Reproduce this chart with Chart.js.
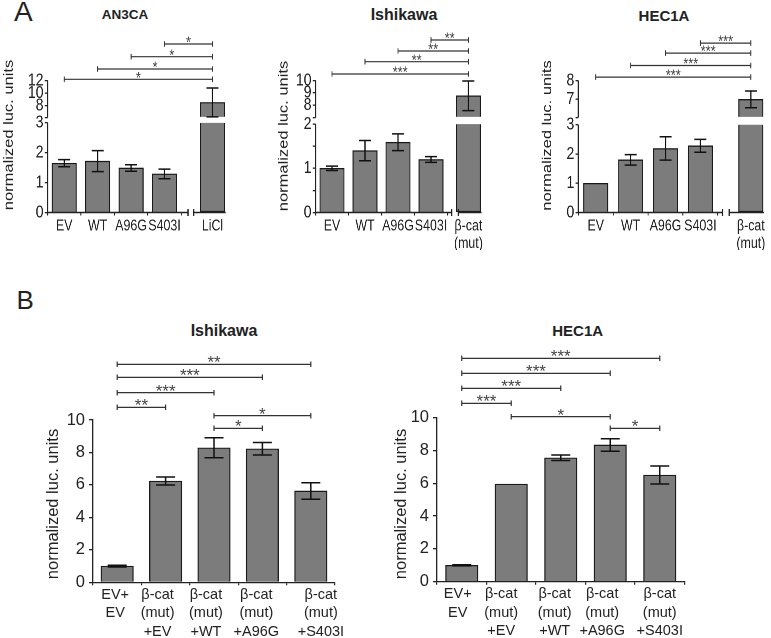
<!DOCTYPE html>
<html lang="en">
<head>
<meta charset="utf-8">
<title>Luciferase reporter assays</title>
<script src="https://cdn.jsdelivr.net/npm/chart.js@4.4.1/dist/chart.umd.min.js"></script>
<style>
  html, body { margin:0; padding:0; background:#fff; width:771px; height:638px; overflow:hidden; }
  body { position:relative; font-family:'Liberation Sans', Arial, Helvetica, sans-serif; color:#222; }
  .abs { position:absolute; line-height:1; white-space:nowrap; }
  .ttl { position:absolute; line-height:1; white-space:nowrap; font-weight:bold; text-align:center; width:200px; }
  .wrap { position:absolute; transform-origin:0 0; }
  canvas { display:block; }
</style>
</head>
<body>
<div class="abs" style="left:14px;top:-2px;font-size:28px;">A</div>
<div class="abs" style="left:16.5px;top:286.5px;font-size:26px;">B</div>
<div class="ttl" style="left:25px;top:8.4px;font-size:13.5px;">AN3CA</div>
<div class="ttl" style="left:304px;top:7.2px;font-size:16px;">Ishikawa</div>
<div class="ttl" style="left:564px;top:7.7px;font-size:15px;">HEC1A</div>
<div class="ttl" style="left:124px;top:322.9px;font-size:16px;">Ishikawa</div>
<div class="ttl" style="left:477.7px;top:323.4px;font-size:15px;">HEC1A</div>
<div class="wrap" id="wA1"><canvas id="cA1"></canvas></div>
<div class="wrap" id="wA2"><canvas id="cA2"></canvas></div>
<div class="wrap" id="wA3"><canvas id="cA3"></canvas></div>
<div class="wrap" id="wB1"><canvas id="cB1"></canvas></div>
<div class="wrap" id="wB2"><canvas id="cB2"></canvas></div>
<script>
// ================= DATA =================
const yTitleText = 'normalized luc. units';

// Panel A - AN3CA
const an3caLabels = ['EV', 'WT', 'A96G', 'S403I', 'LiCl'];
const an3caValues = [1.65, 1.72, 1.49, 1.29, 8.5];
const an3caErrors = [0.12, 0.35, 0.11, 0.16, 2.3];
const an3caLowerTicks = [0, 1, 2, 3];
const an3caLowerLabels = [0, 1, 2, 3];
const an3caUpperTicks = [8, 10, 12];
const an3caSigPairs = [[0, 4], [1, 4], [2, 4], [3, 4]];
const an3caSigLabels = ['*', '*', '*', '*'];

// Panel A - Ishikawa
const ishikawaALabels = ['EV', 'WT', 'A96G', 'S403I', ['β-cat', '(mut)']];
const ishikawaAValues = [1.0, 1.40, 1.59, 1.20, 8.76];
const ishikawaAErrors = [0.05, 0.23, 0.19, 0.065, 1.2];
const ishikawaALowerTicks = [0, 0.5, 1, 1.5, 2];
const ishikawaALowerLabels = [0, 1, 2];
const ishikawaAUpperTicks = [8, 9, 10];
const ishikawaASigPairs = [[0, 4], [1, 4], [2, 4], [3, 4]];
const ishikawaASigLabels = ['***', '**', '**', '**'];

// Panel A - HEC1A
const hec1aALabels = ['EV', 'WT', 'A96G', 'S403I', ['β-cat', '(mut)']];
const hec1aAValues = [1.0, 1.80, 2.19, 2.28, 6.98];
const hec1aAErrors = [0, 0.18, 0.40, 0.22, 0.45];
const hec1aALowerTicks = [0, 1, 2, 3];
const hec1aALowerLabels = [0, 1, 2, 3];
const hec1aAUpperTicks = [7, 8];
const hec1aASigPairs = [[0, 4], [1, 4], [2, 4], [3, 4]];
const hec1aASigLabels = ['***', '***', '***', '***'];

// Panel B (labels carry the small offsets of the original text boxes as padding spaces)
const ishikawaBLabels = [['EV+ ', 'EV '], ['β-cat    ', '(mut)    ', '+EV    '], ['β-cat    ', '(mut)    ', '+WT    '], ['β-cat   ', '(mut)   ', '+A96G   '], ['     β-cat', '     (mut)', '     +S403I']];
const hec1aBLabels = [['EV+  ', 'EV  '], ['β-cat     ', '(mut)     ', '+EV     '], ['β-cat   ', '(mut)   ', '+WT   '], ['β-cat    ', '(mut)    ', '+A96G    '], ['β-cat', '(mut)', '+S403I']];
const panelBYMax = 10;
const panelBYStep = 2;
const ishikawaBValues = [1.0, 6.24, 8.29, 8.23, 5.63];
const ishikawaBErrors = [0.05, 0.25, 0.62, 0.38, 0.51];
const ishikawaBSigPairs = [[0, 1], [0, 2], [0, 3], [0, 4], [2, 3], [2, 4]];
const ishikawaBSigLabels = ['**', '***', '***', '**', '*', '*'];
const hec1aBValues = [1.0, 5.95, 7.56, 8.34, 6.5];
const hec1aBErrors = [0.03, 0, 0.17, 0.38, 0.55];
const hec1aBSigPairs = [[0, 1], [0, 2], [0, 3], [0, 4], [1, 3], [3, 4]];
const hec1aBSigLabels = ['***', '***', '***', '***', '*', '*'];

// ================= LAYOUT / STYLE =================
const FONT = "'Liberation Sans', Arial, Helvetica, sans-serif";
const BAR_FILL = '#7c7c7c';
const BAR_EDGE = '#1a1a1a';
const AXIS = '#222';
const A_SX = 0.8; // horizontal squeeze of panel A artwork

const layoutA1 = { left: 0, top: 0, width: 258, height: 250, areaLeft: 47.5, areaRight: 253, areaTop: 80.5, areaBottom: 212.5,
  xWeights: [140, 65.5], brk: [6.8, 12.5], lowerWeight: 95, upperWeight: 37, lowerMax: 3.18, upperMin: 6.1, upperMax: 12,
  sigOffsets: [1.2, 11.5, 23.8, 36.5], titleX: 9, titleY: 135 };
const layoutA2 = { left: 258, top: 0, width: 250, height: 250, areaLeft: 315.5, areaRight: 502.5, areaTop: 80.5, areaBottom: 212.5,
  xWeights: [142, 45], brk: [4.2, 10.8], lowerWeight: 95, upperWeight: 37, lowerMax: 2.15, upperMin: 7, upperMax: 10,
  sigOffsets: [6.5, 18.8, 29.5, 40.5], titleX: 284, titleY: 136 };
const layoutA3 = { left: 508, top: 0, width: 290, height: 250, areaLeft: 578.3, areaRight: 786.4, areaTop: 80.5, areaBottom: 212.5,
  xWeights: [141.3, 66.8], brk: [4.7, 11.4], lowerWeight: 95, upperWeight: 37, lowerMax: 3.25, upperMin: 6, upperMax: 8,
  sigOffsets: [3.4, 15, 27.4, 37.4], titleX: 547.5, titleY: 135.5 };
const layoutB1 = { left: 0, top: 300, width: 390, height: 338, areaLeft: 93, areaRight: 335, areaTop: 420, areaBottom: 582.3,
  sigOffsets: [12.7, 27.3, 42.7, 55.7, -8.3, 4.3], titleX: 53.3, titleY: 504 };
const layoutB2 = { left: 390, top: 300, width: 381, height: 338, areaLeft: 437, areaRight: 684.5, areaTop: 417.7, areaBottom: 581.7,
  sigOffsets: [14.4, 29.4, 44.4, 59.4, 1, -10.6], titleX: 401, titleY: 504 };

Chart.defaults.font.family = FONT;
Chart.defaults.color = AXIS;
Chart.defaults.animation = false;

// ================= HELPERS =================
function drawYTitle(ctx, x, y, fs) {
  ctx.save();
  ctx.translate(x, y);
  ctx.rotate(-Math.PI / 2);
  ctx.font = fs + 'px ' + FONT;
  ctx.fillStyle = AXIS;
  ctx.textAlign = 'center';
  ctx.textBaseline = 'middle';
  ctx.fillText(yTitleText, 0, 0);
  ctx.restore();
}

function drawBracket(ctx, x1, x2, y, label, fs) {
  ctx.save();
  ctx.strokeStyle = '#333';
  ctx.lineWidth = 1.2;
  ctx.beginPath();
  ctx.moveTo(x1, y); ctx.lineTo(x2, y);
  ctx.moveTo(x1, y - 2.8); ctx.lineTo(x1, y + 2.8);
  ctx.moveTo(x2, y - 2.8); ctx.lineTo(x2, y + 2.8);
  ctx.stroke();
  ctx.fillStyle = '#444';
  ctx.font = fs + 'px ' + FONT;
  ctx.textAlign = 'center';
  ctx.textBaseline = 'alphabetic';
  ctx.fillText(label, (x1 + x2) / 2, y - 5.5 + 0.57 * fs);
  ctx.restore();
}

function drawErrors(chart, capHalf, lw) {
  const ctx = chart.ctx;
  chart.data.datasets.forEach((ds, di) => {
    if (!ds.errors) return;
    const meta = chart.getDatasetMeta(di);
    const ys = chart.scales[meta.yAxisID];
    meta.data.forEach((el, i) => {
      const e = ds.errors[i];
      if (!e) return;
      const v = ds.data[i];
      const top = ys.getPixelForValue(v + e);
      const bot = ys.getPixelForValue(v - e);
      ctx.save();
      ctx.strokeStyle = '#111';
      ctx.lineWidth = lw;
      ctx.beginPath();
      ctx.moveTo(el.x, top); ctx.lineTo(el.x, bot);
      ctx.moveTo(el.x - capHalf, top); ctx.lineTo(el.x + capHalf, top);
      ctx.moveTo(el.x - capHalf, bot); ctx.lineTo(el.x + capHalf, bot);
      ctx.stroke();
      ctx.restore();
    });
  });
}

// ================= PANEL A (broken axes) =================
function brokenPanel(id, labels, values, errors, lowerTicks, lowerLabels, upperTicks, sigPairs, sigLabels, L) {
  const SX = A_SX;
  const n = labels.length - 1;
  const lowerTop = lowerTicks[lowerTicks.length - 1];
  const wrap = document.getElementById('w' + id);
  const canvas = document.getElementById('c' + id);
  const cw = Math.round(L.width / SX);
  const ch = L.height;
  wrap.style.left = L.left + 'px';
  wrap.style.top = L.top + 'px';
  wrap.style.transform = 'scaleX(' + SX + ')';
  canvas.width = cw;
  canvas.height = ch;
  const YW = 38;
  const XH = L.top + L.height - L.areaBottom;
  const aLeft = (L.areaLeft - L.left) / SX;
  const aRight = (L.areaRight - L.left) / SX;
  const barStyle = { backgroundColor: BAR_FILL, borderColor: BAR_EDGE, borderWidth: 1.3, barThickness: 24.5 / SX, grouped: false };
  const datasets = [
    Object.assign({ data: values.slice(0, n), errors: errors.slice(0, n), xAxisID: 'x', yAxisID: 'y' }, barStyle),
    Object.assign({ data: [Math.min(values[n], lowerTop)], xAxisID: 'x2', yAxisID: 'y', borderSkipped: 'end' }, barStyle),
    Object.assign({ data: [values[n]], errors: [errors[n]], xAxisID: 'x2', yAxisID: 'y2', base: L.upperMin }, barStyle)
  ];
  const yAxis = (weight, min, max, ticks, shown) => ({
    type: 'linear', position: 'left', stack: 'ys', stackWeight: weight, min: min, max: max,
    afterFit: s => { s.width = YW; },
    afterBuildTicks: s => { s.ticks = ticks.map(v => ({ value: v })); },
    ticks: { autoSkip: false, padding: 1.5, font: { size: 17.5 }, color: AXIS,
      callback: v => (shown.includes(v) ? String(v) : '') },
    grid: { drawOnChartArea: false, tickLength: 3.5, color: AXIS, lineWidth: 1.3 },
    border: { display: false }
  });
  const xAxis = (weight, labs, tickColor) => ({
    type: 'category', labels: labs, position: 'bottom', stack: 'xs', stackWeight: weight, offset: true,
    afterFit: s => { s.height = XH; },
    ticks: { autoSkip: false, maxRotation: 0, minRotation: 0, padding: 2, font: { size: 15.5, lineHeight: 1.12 }, color: AXIS },
    grid: { offset: true, drawOnChartArea: false, tickLength: 3, color: tickColor, lineWidth: 1.2 },
    border: { display: false }
  });
  const catX = (chart, i) => (i < n ? chart.scales.x.getPixelForValue(i) : chart.scales.x2.getPixelForValue(i - n));

  new Chart(canvas, {
    type: 'bar',
    data: { datasets: datasets },
    options: {
      responsive: false, animation: false, devicePixelRatio: 2,
      layout: { padding: { left: aLeft - YW, right: cw - aRight, top: L.areaTop - L.top, bottom: 0 } },
      plugins: { legend: { display: false }, tooltip: { enabled: false }, title: { display: false } },
      scales: {
        y: yAxis(L.lowerWeight, 0, L.lowerMax, lowerTicks, lowerLabels),
        y2: yAxis(L.upperWeight, L.upperMin, L.upperMax, [L.upperMin].concat(upperTicks), upperTicks),
        x: xAxis(L.xWeights[0], labels.slice(0, n), AXIS),
        x2: xAxis(L.xWeights[1], [labels[n]], 'rgba(0,0,0,0)')
      }
    },
    plugins: [{
      id: 'decor' + id,
      afterDatasetsDraw(chart) {
        const ctx = chart.ctx, a = chart.chartArea, s = chart.scales;
        drawErrors(chart, 6 / SX, 1.5);
        ctx.save();
        ctx.strokeStyle = AXIS;
        ctx.lineWidth = 1.7;
        ctx.beginPath();
        ctx.moveTo(a.left, s.y.getPixelForValue(0)); ctx.lineTo(a.left, s.y.getPixelForValue(lowerTop));
        ctx.moveTo(a.left, s.y2.getPixelForValue(L.upperMin)); ctx.lineTo(a.left, s.y2.getPixelForValue(L.upperMax));
        ctx.stroke();
        const b1 = s.x.right + L.brk[0] / SX;
        const b2 = s.x.right + L.brk[1] / SX;
        const last = chart.getDatasetMeta(2).data[0];
        const xEnd = last.x + last.width / 2 + 1;
        const yb = a.bottom;
        ctx.lineWidth = 1.4;
        ctx.beginPath();
        ctx.moveTo(a.left, yb); ctx.lineTo(b1, yb);
        ctx.moveTo(b2, yb); ctx.lineTo(xEnd, yb);
        ctx.stroke();
        ctx.lineWidth = 1.7;
        ctx.beginPath();
        ctx.moveTo(b1, yb - 3.5); ctx.lineTo(b1, yb + 3.5);
        ctx.moveTo(b2, yb - 3.5); ctx.lineTo(b2, yb + 3.5);
        ctx.stroke();
        ctx.restore();
      },
      afterDraw(chart) {
        const ctx = chart.ctx, a = chart.chartArea;
        sigPairs.forEach((p, k) => {
          drawBracket(ctx, catX(chart, p[0]), catX(chart, p[1]), a.top - L.sigOffsets[k], sigLabels[k], 16);
        });
        drawYTitle(ctx, (L.titleX - L.left) / SX, L.titleY - L.top, 16.5);
      }
    }]
  });
}

// ================= PANEL B =================
function simplePanel(id, labels, values, errors, sigPairs, sigLabels, L) {
  const wrap = document.getElementById('w' + id);
  const canvas = document.getElementById('c' + id);
  wrap.style.left = L.left + 'px';
  wrap.style.top = L.top + 'px';
  canvas.width = L.width;
  canvas.height = L.height;
  const YW = 40;
  const XH = L.top + L.height - L.areaBottom;
  new Chart(canvas, {
    type: 'bar',
    data: { labels: labels, datasets: [{ data: values, errors: errors, backgroundColor: BAR_FILL, borderColor: BAR_EDGE, borderWidth: 1.3, barThickness: 32.5 }] },
    options: {
      responsive: false, animation: false,
      layout: { padding: { left: L.areaLeft - L.left - YW, right: L.left + L.width - L.areaRight, top: L.areaTop - L.top, bottom: 0 } },
      plugins: { legend: { display: false }, tooltip: { enabled: false }, title: { display: false } },
      scales: {
        x: { type: 'category', offset: true,
          afterFit: s => { s.height = XH; },
          ticks: { autoSkip: false, maxRotation: 0, minRotation: 0, padding: 0.5, font: { size: 14.5, lineHeight: 1.27 }, color: AXIS },
          grid: { offset: true, drawOnChartArea: false, tickLength: 3, color: AXIS, lineWidth: 1.2 },
          border: { display: true, color: AXIS, width: 1.3 } },
        y: { type: 'linear', min: 0, max: panelBYMax,
          afterFit: s => { s.width = YW; },
          ticks: { stepSize: panelBYStep, padding: 4, font: { size: 16.5 }, color: AXIS },
          grid: { drawOnChartArea: false, tickLength: 4, color: AXIS, lineWidth: 1.3 },
          border: { display: true, color: AXIS, width: 1.3 } }
      }
    },
    plugins: [{
      id: 'decor' + id,
      afterDatasetsDraw(chart) { drawErrors(chart, 9.5, 1.5); },
      afterDraw(chart) {
        const ctx = chart.ctx, a = chart.chartArea, x = chart.scales.x;
        sigPairs.forEach((p, k) => {
          drawBracket(ctx, x.getPixelForValue(p[0]), x.getPixelForValue(p[1]), a.top - L.sigOffsets[k], sigLabels[k], 17);
        });
        drawYTitle(ctx, L.titleX - L.left, L.titleY - L.top, 16.5);
      }
    }]
  });
}

brokenPanel('A1', an3caLabels, an3caValues, an3caErrors, an3caLowerTicks, an3caLowerLabels, an3caUpperTicks, an3caSigPairs, an3caSigLabels, layoutA1);
brokenPanel('A2', ishikawaALabels, ishikawaAValues, ishikawaAErrors, ishikawaALowerTicks, ishikawaALowerLabels, ishikawaAUpperTicks, ishikawaASigPairs, ishikawaASigLabels, layoutA2);
brokenPanel('A3', hec1aALabels, hec1aAValues, hec1aAErrors, hec1aALowerTicks, hec1aALowerLabels, hec1aAUpperTicks, hec1aASigPairs, hec1aASigLabels, layoutA3);
simplePanel('B1', ishikawaBLabels, ishikawaBValues, ishikawaBErrors, ishikawaBSigPairs, ishikawaBSigLabels, layoutB1);
simplePanel('B2', hec1aBLabels, hec1aBValues, hec1aBErrors, hec1aBSigPairs, hec1aBSigLabels, layoutB2);
</script>
</body>
</html>
